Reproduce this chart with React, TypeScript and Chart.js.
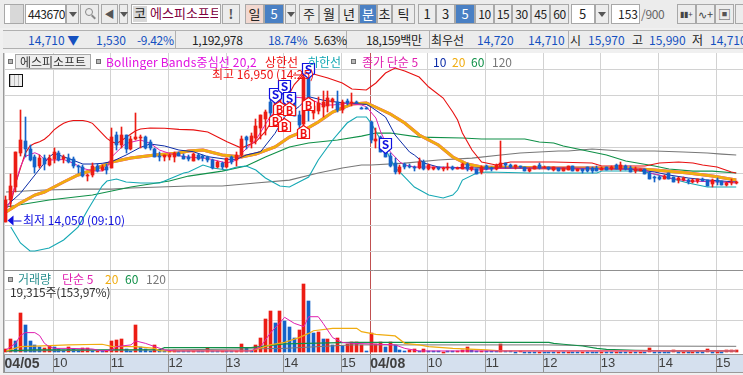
import React, { useEffect, useRef } from "react";
import { Chart, registerables } from "chart.js";

Chart.register(...registerables);

// ---- candles (KRW) ----
const opens = [14060,14480,14730,15390,15620,15470,15310,15130,15280,15150,15260,15390,15260,15280,15260,15130,15110,14940,14960,15140,15050,15120,15090,15730,15530,15730,15460,15660,15680,15690,15600,15470,15330,15300,15310,15300,15380,15330,15310,15240,15350,15330,15300,15250,15120,15200,15120,15300,15250,15350,15690,15600,15670,15860,16030,16370,16170,16320,16650,16300,16500,16115,15950,16880,16150,16200,16260,16280,16370,16370,16220,16390,16340,16370,16250,16250,15987,15620,15700,15430,15327,15186,15013,15166,15135,15120,15090,15218,15070,15070,15110,15070,15090,15120,15080,15085,15170,15085,15070,15010,15135,15100,15070,15110,15190,15160,15120,15130,15110,15045,15085,15150,15110,15110,15060,15090,15045,15058,15135,15045,15071,15110,15090,15103,15058,15109,15071,15154,15071,15141,15103,15045,15040,15071,15006,14930,14930,14891,14994,14917,14865,14865,14865,14827,14846,14885,14865,14782,14865,14846,14769,14801,14801];
const highs = [14550,14980,15410,16210,16070,15540,15350,15340,15350,15350,15490,15420,15350,15370,15300,15150,15160,14990,15190,15170,15150,15170,15860,15780,15880,15740,15720,16150,15730,15710,15640,15490,15410,15350,15370,15410,15400,15360,15350,15380,15370,15350,15320,15260,15240,15220,15290,15320,15400,15720,15710,15760,16030,16120,16220,16450,16420,16580,16680,16570,16520,16190,16950,16900,16300,16470,16580,16580,16450,16580,16410,16430,16530,16380,16260,16260,16000,15860,15720,15450,15380,15280,15150,15200,15170,15130,15280,15250,15170,15120,15120,15120,15190,15130,15110,15190,15190,15120,15080,15130,15150,15110,15170,15620,15200,15170,15160,15140,15115,15095,15140,15200,15130,15120,15120,15100,15100,15140,15140,15080,15080,15120,15109,15135,15110,15115,15130,15173,15205,15145,15135,15109,15085,15080,15010,14942,14940,14960,15000,14925,14930,14920,14878,14885,14880,14895,14870,14878,14898,14855,14820,14878,14840];
const lows = [14050,14350,14640,15320,15300,15230,15000,15090,15060,15130,15200,15230,15190,15190,15100,15000,14920,14850,14930,15020,15030,14990,15090,15440,15490,15390,15440,15630,15490,15470,15450,15310,15240,15240,15250,15220,15320,15270,15240,15230,15250,15240,15210,15080,15100,15070,15100,15180,15140,15300,15470,15480,15560,15650,15730,16030,16150,16280,16300,16280,16090,15850,15880,16000,16040,16130,16080,16180,16250,16180,16160,16300,16280,16340,16230,16230,15570,15490,15400,15300,15110,14990,14990,15080,15090,15040,15070,15060,15050,15060,15060,15040,15060,15050,15070,15070,15040,15030,14985,14990,15060,15040,15060,15090,15095,15100,15070,15100,15040,15025,15080,15080,15090,15050,15040,15030,15030,15050,15040,15040,14995,15025,15006,15040,15050,15050,15060,15071,15045,15065,15020,14994,15030,14975,14880,14830,14870,14880,14880,14825,14814,14855,14788,14801,14801,14845,14745,14737,14769,14760,14750,14769,14795];
const closes = [14490,14750,15400,15630,15460,15250,15110,15280,15170,15280,15400,15250,15300,15220,15140,15110,14950,14960,15130,15040,15120,15060,15690,15540,15730,15470,15660,15700,15700,15490,15490,15310,15300,15350,15350,15390,15330,15270,15260,15360,15270,15280,15250,15090,15220,15120,15280,15205,15350,15650,15640,15710,15900,16110,16180,16150,16400,16550,16300,16550,16100,15923,16850,16440,16280,16350,16360,16440,16420,16210,16370,16340,16370,16350,16240,16240,15635,15650,15410,15310,15135,15026,15120,15109,15110,15090,15220,15077,15150,15110,15070,15100,15120,15070,15100,15170,15070,15110,14990,15120,15085,15075,15160,15190,15150,15110,15150,15110,15045,15085,15135,15090,15120,15070,15110,15045,15090,15135,15045,15071,15032,15032,15045,15045,15103,15058,15122,15083,15154,15071,15026,15071,15077,14981,14885,14898,14878,14949,14885,14833,14898,14910,14833,14865,14878,14853,14750,14865,14833,14769,14814,14833,14833];

// ---- price overlays, read at [candle index, price] ----
const bbUpper = [[1,14400],[2,14800],[3,15090],[4,15378],[5,15520],[6,15570],[7,15600],[8,15650],[9,15730],[10,15830],[11,15900],[12,15955],[13,15990],[14,16010],[16,16010],[17,15990],[18,15955],[19,15860],[20,15763],[21,15667],[22,15600],[23,15570],[24,15620],[25,15686],[26,15750],[27,15814],[28,15846],[30,15865],[33,15860],[36,15840],[39,15830],[42,15790],[46,15600],[49,15480],[52,15600],[54,15800],[56,16100],[58,16350],[60,16700],[62,16904],[64,16904],[67,16827],[70,16731],[72,16615],[75,16596],[77,16731],[79,16923],[81,17019],[83,16961],[86,16846],[88,16654],[91,16442],[93,16173],[94,16019],[95,15769],[97,15442],[99,15211],[102,15154],[105,15211],[114,15211],[122,15192],[124,15135],[133,15135],[136,15192],[140,15211],[143,15192],[145,15154],[148,15115],[151,15019],[152,15000]];
const bbLower = [[1,13961],[3,13654],[5,13500],[6,13500],[9,13558],[12,13712],[15,13961],[17,14290],[18,14442],[20,14750],[21,14846],[23,14885],[25,14827],[28,14808],[32,14808],[35,14923],[37,15000],[38,15019],[41,15154],[43,15096],[46,15058],[48,15115],[50,15135],[52,15058],[54,14904],[57,14750],[59,14731],[63,14923],[65,15250],[68,15635],[71,15961],[73,16077],[75,16077],[76,15961],[78,15635],[81,15100],[82,15019],[85,14731],[88,14577],[91,14519],[93,14577],[94,14673],[95,14865],[98,15000],[100,15019],[109,15000],[115,15000],[123,15000],[124,15038],[132,15038],[134,15000],[138,14904],[142,14808],[144,14769],[146,14731],[152,14731]];
const ma5 = [[0,14290],[1,14480],[2,14800],[3,15120],[4,15320],[6,15390],[7,15350],[8,15260],[10,15250],[12,15260],[14,15190],[16,15090],[18,15040],[20,15040],[21,15090],[22,15310],[24,15490],[25,15570],[28,15635],[30,15570],[32,15440],[34,15378],[37,15314],[39,15300],[42,15280],[46,15190],[48,15250],[49,15378],[52,15635],[55,16083],[57,16275],[59,16468],[63,16436],[66,16308],[68,16308],[71,16340],[74,16308],[75,16276],[77,16058],[78,15788],[80,15404],[82,15211],[83,15154],[85,15115],[88,15115],[94,15096],[98,15058],[104,15096],[115,15096],[133,15077],[134,15000],[136,14962],[138,14904],[142,14846],[149,14827],[152,14808]];
const ma10 = [[0,14360],[3,14610],[6,14960],[9,15310],[10,15378],[13,15280],[16,15173],[18,15173],[20,15186],[22,15218],[25,15346],[28,15494],[30,15558],[33,15520],[36,15442],[39,15410],[42,15314],[46,15263],[48,15263],[50,15346],[53,15410],[56,15763],[58,16083],[61,16276],[63,16468],[66,16400],[70,16350],[75,16320],[76,16269],[79,16077],[81,15731],[84,15404],[85,15346],[87,15192],[90,15115],[98,15096],[115,15096],[130,15077],[135,15019],[138,14962],[142,14904],[146,14865],[152,14827]];
const ma20 = [[0,14250],[3,14423],[6,14577],[8,14635],[10,14731],[12,14827],[15,14962],[18,15058],[22,15211],[26,15288],[31,15346],[36,15385],[38,15423],[41,15442],[45,15346],[49,15308],[52,15365],[56,15500],[59,15692],[61,15769],[65,15981],[68,16173],[72,16327],[75,16346],[76,16308],[80,16135],[83,15961],[86,15731],[90,15538],[93,15308],[96,15173],[99,15115],[115,15096],[123,15096],[129,15096],[135,15058],[142,15000],[147,14942],[152,14865]];
const bbCenter = [[0,14250],[3,14423],[6,14577],[8,14635],[10,14731],[12,14827],[15,14962],[18,15058],[22,15211],[26,15288],[31,15346],[36,15385],[38,15423],[41,15442],[45,15346],[49,15308],[52,15365],[56,15500],[59,15692],[61,15769],[65,15981],[68,16173],[72,16327],[75,16346],[76,16308],[80,16135],[83,15961],[86,15731],[90,15538],[93,15308],[96,15173],[99,15115],[115,15096],[123,15096],[129,15096],[135,15058],[142,15000],[147,14942],[152,14865]];
const ma60 = [[0,14346],[9,14481],[18,14577],[26,14731],[34,14846],[38,14942],[45,15038],[50,15135],[54,15308],[59,15500],[63,15577],[69,15635],[74,15711],[77,15769],[80,15769],[86,15692],[95,15673],[99,15654],[108,15654],[111,15596],[114,15577],[116,15519],[121,15423],[125,15346],[129,15231],[135,15135],[138,15077],[143,15038],[147,15038],[152,15000]];
const ma120 = [[0,14635],[8,14673],[16,14692],[22,14692],[26,14712],[32,14731],[38,14750],[45,14750],[52,14808],[59,14865],[65,15000],[70,15096],[74,15154],[76,15154],[83,15192],[90,15250],[97,15288],[103,15346],[107,15385],[115,15423],[117,15423],[122,15462],[128,15423],[135,15423],[141,15404],[146,15385],[149,15365],[152,15346]];

// ---- volume ----
const volumes = [
  21000,85000,72000,250000,174000,72000,47000,34000,25000,40000,
  32000,21000,15000,34000,21000,13000,25000,25000,11000,11000,
  8500,8500,72000,78000,85000,21000,11000,174000,36000,21000,
  8500,47000,15000,8500,8500,13000,8500,6300,8500,8500,
  8500,8500,25000,8500,8500,8500,8500,8500,8500,51000,
  30000,8500,47000,93000,212000,262000,188000,262000,199000,163000,
  93000,142000,434000,328000,125000,131000,85000,85000,47000,89000,
  40000,53000,63000,68000,47000,8500,125000,51000,68000,36000,
  63000,47000,15000,8500,17000,21000,8500,21000,11000,11000,
  8500,4200,6300,6300,8500,15000,32000,13000,8500,8500,
  8500,8500,6300,51000,8500,8500,4200,11000,4200,4200,
  4200,4200,4200,4200,4200,4200,4200,4200,4200,4200,
  4200,4200,4200,4200,4200,4200,4200,4200,4200,4200,
  4200,4200,4200,4200,25000,4200,4200,4200,4200,13000,
  4200,4200,4200,4200,4200,4200,19000,4200,4200,4200,
  13000,13000,13000,
];
const volumeSides = "RRBRBBBBRR" + "BBBRBBRRBR" + "BRRRRBBRBB" + "BRBBRRBBBR" + "BBRBBRBBRR" + "BBRRRRBRBB" + "BRRBBRBRBR" + "BRRRRBRRRB" + "RBBBRRBRBB" + "BRBBRRRBBR" + "BBBRBBBRBB" + "BRBBBRBRBB" + "RBBBRBBRBB" + "RBRBRBBBBR" + "BRBRBBRBRB" + "RRR";
const volMa5 = [[0,15000],[1,36000],[2,57000],[3,106000],[4,125000],[6,125000],[7,106000],[8,57000],[9,36000],[10,25000],[13,25000],[18,21000],[20,8500],[22,15000],[23,36000],[26,47000],[27,72000],[29,57000],[31,36000],[33,15000],[35,8500],[50,8500],[51,8500],[53,36000],[55,121000],[58,222000],[60,184000],[62,163000],[63,226000],[65,226000],[66,184000],[68,93000],[70,63000],[72,57000],[76,53000],[81,47000],[83,25000],[86,8500],[152,8500]];
const volMa20 = [[0,8500],[3,36000],[9,42000],[13,47000],[20,51000],[22,38000],[27,36000],[31,25000],[32,8500],[51,8500],[55,47000],[58,63000],[61,93000],[63,120000],[64,137000],[68,152000],[73,152000],[74,131000],[77,114000],[81,104000],[83,57000],[86,47000],[88,36000],[93,25000],[100,15000],[103,8500],[152,8500]];
const volMa60 = [[0,8500],[6,15000],[32,17000],[33,30000],[51,30000],[58,53000],[72,63000],[102,63000],[113,63000],[114,57000],[116,51000],[120,40000],[123,25000],[125,19000],[131,13000],[139,8500],[152,8500]];
const volMa120 = [[0,8500],[32,15000],[50,21000],[58,25000],[72,47000],[102,47000],[112,47000],[127,40000],[152,38000]];

// ---- axes ----
const timeTickIndex = [0,10,22,34,46,58,70,76,88,100,112,124,136,148];
const timeTickLabels = ["04/05","10","11","12","13","14","15","04/08","10","11","12","13","14","15"];
const priceGrid = [13500,14000,14500,15000,15500,16000,16500,17000];
const volumeGrid = [200000,400000];

// ---- signals [candle index, price at badge tip] ----
const sellSignals = [[56,16346],[58,16500],[59,16270],[63,16827],[79,15385]];
const buySignals = [[56,16154],[57,16385],[59,16365],[58,16058],[62,15923],[63,16461]];

const RED = "#ec1c14";
const BLUE = "#1462c8";
const NAVY = "#0c2ca8";
const MAGENTA = "#e020b0";
const ORANGE = "#f0ac10";
const GREEN = "#109048";
const GREY = "#787878";
const TEAL = "#14a8b4";
const KR = '"Noto Sans CJK KR", sans-serif';

const pts = (p: number[][]) => p.map(([x, y]) => ({ x, y }));
const line = (label: string, p: number[][], color: string, width: number, yAxisID: string, order = 5) => ({
  type: "line" as const, label, data: pts(p), borderColor: color, borderWidth: width, yAxisID, xAxisID: "x",
  pointRadius: 0, tension: 0, order,
});

const snapBars = {
  id: "snapBars",
  afterDatasetsUpdate(chart: any) {
    chart.data.datasets.forEach((ds: any, i: number) => {
      if (ds.type !== "bar") return;
      chart.getDatasetMeta(i).data.forEach((el: any) => {
        el.x = Math.floor(el.x) + 0.5;
        el.y = Math.round(el.y);
        el.base = Math.round(el.base);
        if (el.base === el.y) el.base = el.y + 1;
      });
    });
  },
};

const paper = {
  id: "paper",
  beforeDraw(chart: any) {
    const { ctx, chartArea: a } = chart;
    ctx.save();
    ctx.fillStyle = "#fff";
    ctx.fillRect(a.left, a.top, a.right - a.left, a.bottom - a.top);
    ctx.restore();
  },
  afterDraw(chart: any) {
    const { ctx, chartArea: a } = chart;
    ctx.save();
    ctx.fillStyle = "#9a9a9a";
    ctx.fillRect(3, a.top, 1, 372 - a.top);
    ctx.fillRect(3, 354, 740, 1);
    ctx.fillRect(3, 372, 740, 1);
    ctx.restore();
  },
};

const marks = {
  id: "marks",
  afterDatasetsDraw(chart: any) {
    const { ctx, scales } = chart;
    const X = (v: number) => Math.floor(scales.x.getPixelForValue(v)) + 0.5;
    const Y = (v: number) => Math.round(scales.y.getPixelForValue(v)) + 0.5;
    ctx.save();
    ctx.textAlign = "center";
    ctx.textBaseline = "middle";
    const poly = (p: number[][], fill: string, stroke: string, w: number) => {
      ctx.beginPath();
      p.forEach(([a, b], i) => (i ? ctx.lineTo(a, b) : ctx.moveTo(a, b)));
      ctx.closePath();
      ctx.fillStyle = fill;
      ctx.fill();
      ctx.lineWidth = w;
      ctx.strokeStyle = stroke;
      ctx.stroke();
    };
    sellSignals.forEach(([i, p]) => {
      const x = X(i), y = Y(p);
      poly([[x - 6, y - 15], [x + 6, y - 15], [x + 6, y - 5], [x, y], [x - 6, y - 5]], "#fff", "#1010e0", 1.2);
      ctx.fillStyle = "#1010e0";
      ctx.font = "bold 12px " + KR;
      ctx.fillText("S", x, y - 9);
    });
    buySignals.forEach(([i, p]) => {
      const x = X(i), y = Y(p);
      poly([[x, y], [x + 6, y + 4], [x + 6, y + 13], [x - 6, y + 13], [x - 6, y + 4]], "#fff", "#f01010", 1.2);
      ctx.fillStyle = "#f01010";
      ctx.font = "bold 11px " + KR;
      ctx.fillText("B", x, y + 8);
    });
    ctx.textAlign = "left";
    ctx.font = "12px " + KR;
    // highest price label
    const hy = Y(16950) + 2;
    ctx.fillStyle = "#ee1010";
    ctx.fillText("최고 16,950 (14:25)", 212, hy);
    ctx.fillRect(293, hy, 10, 1);
    // lowest price label
    const ly = Y(14050) - 2;
    const lx = X(0) + 2;
    ctx.fillStyle = "#1010e0";
    ctx.beginPath();
    ctx.moveTo(lx, ly);
    ctx.lineTo(lx + 6, ly - 5);
    ctx.lineTo(lx + 6, ly + 5);
    ctx.closePath();
    ctx.fill();
    ctx.fillRect(lx + 6, ly, 8, 1);
    ctx.fillText("최저 14,050 (09:10)", 23, ly);
    ctx.restore();
  },
};

const T = (x: number, y: number, text: string, color: string, extra: React.CSSProperties = {}) => (
  <span style={{ position: "absolute", left: x, top: y, color, font: "12px/16px " + KR, whiteSpace: "nowrap", ...extra }}>{text}</span>
);
const Box = (x: number, y: number, w: number, h: number, text: string, extra: React.CSSProperties = {}, color = "#222") => (
  <div style={{ position: "absolute", left: x, top: y, width: w, height: h, boxSizing: "border-box", border: "1px solid #a8a8a8", background: "#ececec", color, font: "13px/" + (h - 2) + "px " + KR, textAlign: "center", overflow: "hidden", ...extra }}>{text}</div>
);
const Arrow = (x: number, y: number) => (
  <div style={{ position: "absolute", left: x, top: y, width: 0, height: 0, borderLeft: "4px solid transparent", borderRight: "4px solid transparent", borderTop: "5px solid #555" }} />
);
const Square = (x: number, y: number) => (
  <div style={{ position: "absolute", left: x, top: y, width: 5, height: 5, boxSizing: "border-box", background: "#b8b8b8", border: "1px solid #707070" }} />
);

export default function App() {
  const ref = useRef<HTMLCanvasElement>(null);
  useEffect(() => {
    const wick = (i: number) => ({ x: i, y: [lows[i], highs[i]] });
    const body = (i: number) => ({ x: i, y: [opens[i], closes[i]] });
    const idx = opens.map((_, i) => i);
    const side = opens.map((o, i) => (closes[i] >= o ? RED : BLUE));
    const chart = new Chart(ref.current!, {
      data: {
        datasets: [
          { type: "bar", label: "body", data: idx.map(body), backgroundColor: side, barThickness: 3, grouped: false, yAxisID: "y", xAxisID: "x", order: 1 },
          { type: "bar", label: "wick", data: idx.map(wick), backgroundColor: side, barThickness: 1, grouped: false, yAxisID: "y", xAxisID: "x", order: 2 },
          line("MA5", ma5, MAGENTA, 1, "y", 3),
          line("MA10", ma10, NAVY, 1, "y", 3),
          line("MA20", ma20, ORANGE, 3, "y", 4),
          line("BB center", bbCenter, "#e010e0", 3, "y", 5),
          line("BB upper", bbUpper, "#e81010", 1.1, "y", 6),
          line("BB lower", bbLower, TEAL, 1.1, "y", 6),
          line("MA60", ma60, GREEN, 1.2, "y", 7),
          line("MA120", ma120, GREY, 1.2, "y", 7),
          line("Vol MA5", volMa5, MAGENTA, 1, "y2", 1),
          line("Vol MA20", volMa20, ORANGE, 1.2, "y2", 2),
          line("Vol MA60", volMa60, GREEN, 1.2, "y2", 3),
          line("Vol MA120", volMa120, GREY, 1, "y2", 4),
          { type: "bar", label: "volume", data: volumes.map((v, i) => ({ x: i, y: v })), backgroundColor: volumes.map((_, i) => (volumeSides[i] === "R" ? RED : BLUE)), barThickness: 3, grouped: false, yAxisID: "y2", xAxisID: "x", order: 8 },
        ] as any,
      },
      plugins: [snapBars, paper, marks],
      options: {
        responsive: false,
        animation: false,
        layout: { autoPadding: false, padding: { left: 4, top: 53, bottom: 3, right: 0 } },
        plugins: { legend: { display: false }, tooltip: { enabled: false } },
        scales: {
          x: {
            type: "linear", position: "bottom", min: -0.416, max: 153.41, offset: false,
            afterBuildTicks: (s: any) => { s.ticks = timeTickIndex.map((v) => ({ value: v === 0 ? -0.3 : v - 0.2 })); },
            afterFit: (s: any) => { s.height = 17; s.paddingLeft = 0; s.paddingRight = 0; },
            backgroundColor: "#d5e0ee",
            border: { display: false },
            grid: {
              offset: false,
              color: (c: any) => (c.tick && timeTickLabels[c.index] === "04/08" ? "#c05050" : "#d2d2d2"),
              tickColor: "#909090", tickLength: 17, lineWidth: 1,
            },
            ticks: {
              autoSkip: false, maxRotation: 0, minRotation: 0, align: "start", padding: -16, color: "#404040",
              callback: (_: any, i: number) => timeTickLabels[i],
              font: (c: any) => {
                const bold = timeTickLabels[c.index]?.includes("/");
                return { family: '"Liberation Sans", sans-serif', size: bold ? 14 : 13, weight: bold ? "bold" : "normal" };
              },
            },
          },
          y2: {
            type: "linear", position: "left", stack: "panes", stackWeight: 85, min: -17100, max: 522500,
            afterBuildTicks: (s: any) => { s.ticks = [...volumeGrid, 522500].map((value) => ({ value })); },
            afterFit: (s: any) => { s.width = 0; },
            border: { display: false },
            grid: { color: (c: any) => (c.tick?.value === 522500 ? "#909090" : "#d2d2d2"), drawTicks: false },
            ticks: { display: false },
          },
          y: {
            type: "linear", position: "left", stack: "panes", stackWeight: 217, min: 13135, max: 17308,
            afterBuildTicks: (s: any) => { s.ticks = priceGrid.map((value) => ({ value })); },
            afterFit: (s: any) => { s.width = 0; },
            border: { display: false },
            grid: { color: "#d2d2d2", drawTicks: false },
            ticks: { display: false },
          },
        },
      } as any,
    });
    return () => chart.destroy();
  }, []);

  const blue = "#1450c0";
  const tight: React.CSSProperties = { letterSpacing: -0.3 };
  return (
    <div style={{ position: "fixed", left: 0, top: 0, width: 743, height: 375, overflow: "hidden", background: "#f0f0f0" }}>
      <canvas ref={ref} width={743} height={375} style={{ position: "absolute", left: 0, top: 0 }} />
      {/* toolbar row */}
      <div style={{ position: "absolute", left: 0, top: 0, width: 743, height: 28, background: "#ececec", borderBottom: "1px solid #b0b0b0" }} />
      {Box(4, 4, 20, 20, "", { background: "linear-gradient(90deg,#fff 0 30%,#d8d8d8 30% 100%)" })}
      {Box(25, 4, 41, 20, "443670", { background: "#fff", font: "12px/18px " + KR, textAlign: "left", paddingLeft: 2, letterSpacing: -0.5 })}
      {Box(66, 4, 13, 20, "")}
      {Arrow(69, 12)}
      {Box(80, 4, 19, 20, "")}
      <div style={{ position: "absolute", left: 85, top: 8, width: 8, height: 8, boxSizing: "border-box", border: "1.5px solid #888", borderRadius: "50%" }} />
      <div style={{ position: "absolute", left: 91, top: 16, width: 5, height: 2, background: "#888", transform: "rotate(45deg)" }} />
      {Box(101, 4, 17, 20, "◀", { fontSize: 10, color: "#555" })}
      {Box(119, 4, 9, 20, "")}
      {Arrow(120, 12)}
      {Box(131, 4, 90, 20, "", { background: "#fff" })}
      {Box(133, 6, 14, 16, "코", { background: "#d8d8d8", border: "none" })}
      {T(150, 5, "에스피소프트", "#800040", { width: 68, overflow: "hidden", fontSize: 13 })}
      {Box(222, 4, 18, 20, "!", { fontWeight: 700, color: "#555" })}
      {Box(245, 4, 19, 20, "일", { background: "#f2d8d0" })}
      {Box(264, 4, 20, 20, "5", { background: "#4a80c4", color: "#fff" })}
      {Box(285, 4, 11, 20, "")}
      {Arrow(287, 12)}
      {Box(299, 4, 20, 20, "주")}
      {Box(319, 4, 20, 20, "월")}
      {Box(339, 4, 20, 20, "년")}
      {Box(359, 4, 18, 20, "분", { background: "#4a80c4", color: "#fff" })}
      {Box(377, 4, 15, 20, "초")}
      {Box(392, 4, 23, 20, "틱")}
      {Box(418, 4, 18, 20, "1")}
      {Box(436, 4, 19, 20, "3")}
      {Box(455, 4, 20, 20, "5", { background: "#4a80c4", color: "#fff" })}
      {Box(475, 4, 19, 20, "10", { fontSize: 12, letterSpacing: -0.4 })}
      {Box(494, 4, 18, 20, "15", { fontSize: 12, letterSpacing: -0.4 })}
      {Box(512, 4, 19, 20, "30", { fontSize: 12, letterSpacing: -0.4 })}
      {Box(531, 4, 19, 20, "45", { fontSize: 12, letterSpacing: -0.4 })}
      {Box(550, 4, 19, 20, "60", { fontSize: 12, letterSpacing: -0.4 })}
      {Box(571, 4, 24, 20, "5", { background: "#fff", textAlign: "left", paddingLeft: 7 })}
      {Box(595, 4, 14, 20, "")}
      {Arrow(598, 12)}
      {Box(611, 4, 29, 20, "153", { background: "#fff", textAlign: "right", paddingRight: 1, fontSize: 12 })}
      {T(641, 6, "/900", "#666", tight)}
      {Box(677, 4, 19, 20, "▮▮+", { fontSize: 8, color: "#444" })}
      {Box(696, 4, 19, 20, "∿+", { fontSize: 11, color: "#444" })}
      {Box(715, 4, 19, 20, "▣", { color: "#555" })}
      {Box(735, 4, 10, 20, "", {})}
      {/* quote row */}
      <div style={{ position: "absolute", left: 0, top: 28, width: 743, height: 25, background: "#f0f0f0" }} />
      <div style={{ position: "absolute", left: 3, top: 30, width: 740, height: 19, boxSizing: "border-box", background: "#ececec", borderTop: "1px solid #b0b0b0", borderBottom: "1px solid #b0b0b0" }} />
      {[175, 346, 429, 568].map((x) => (
        <div key={x} style={{ position: "absolute", left: x, top: 31, width: 1, height: 17, background: "#b0b0b0" }} />
      ))}
      {T(28, 32, "14,710 ▼", blue)}
      {T(96, 32, "1,530", blue)}
      {T(137, 32, "-9.42%", blue, tight)}
      {T(192, 32, "1,192,978", "#222", tight)}
      {T(268, 32, "18.74%", blue, tight)}
      {T(314, 32, "5.63%", "#222", tight)}
      {T(366, 32, "18,159백만", "#222", { letterSpacing: -0.4 })}
      {T(431, 32, "최우선", "#222")}
      {T(477, 32, "14,720", blue)}
      {T(528, 32, "14,710", blue)}
      {T(570, 32, "시", "#222")}
      {T(588, 32, "15,970", blue)}
      {T(632, 32, "고", "#222")}
      {T(649, 32, "15,990", blue)}
      {T(692, 32, "저", "#222")}
      {T(710, 32, "14,710", blue)}
      {/* legends */}
      {Square(8, 59)}
      {Box(15, 54, 76, 15, "에스피소프트", { font: "12px/13px " + KR, background: "#eee", color: "#333" })}
      {Square(96, 59)}
      {T(106, 54, "Bollinger Bands중심선 20,2", "#e010e0", { letterSpacing: 0.15 })}
      {T(265, 54, "상한선", "#ee1010")}
      {T(308, 54, "하한선", TEAL)}
      {Square(351, 59)}
      {T(362, 54, "종가 단순 5", MAGENTA)}
      {T(433, 54, "10", NAVY)}
      {T(452, 54, "20", ORANGE)}
      {T(471, 54, "60", GREEN)}
      {T(492, 54, "120", GREY)}
      {/* grid icon */}
      <div style={{ position: "absolute", left: 9, top: 74, width: 14, height: 13, boxSizing: "border-box", border: "1px solid #111", background: "repeating-linear-gradient(90deg,#bbb 0 1px,#eee 1px 4px)" }} />
      {Square(8, 277)}
      {T(18, 271, "거래량", "#2a9090")}
      {T(62, 271, "단순 5", MAGENTA)}
      {T(105, 271, "20", ORANGE)}
      {T(125, 271, "60", GREEN)}
      {T(146, 271, "120", GREY)}
      {T(10, 284, "19,315주(153,97%)", "#333", { letterSpacing: -0.2 })}
    </div>
  );
}
